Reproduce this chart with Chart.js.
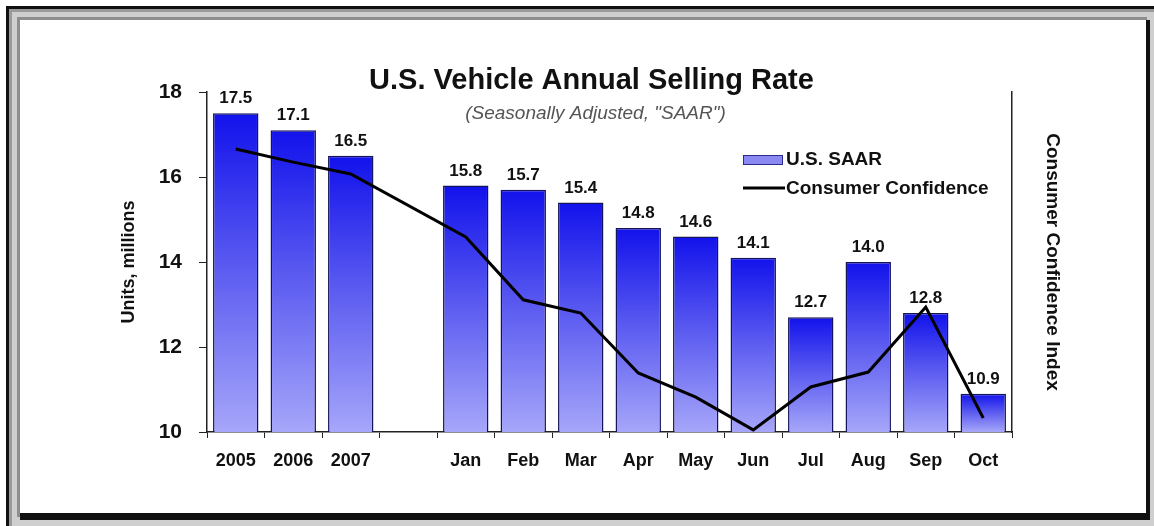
<!DOCTYPE html>
<html>
<head>
<meta charset="utf-8">
<title>U.S. Vehicle Annual Selling Rate</title>
<script src="https://cdn.jsdelivr.net/npm/chart.js@4.4.1/dist/chart.umd.min.js"></script>
<style>
  html, body { margin: 0; padding: 0; width: 1154px; height: 526px; overflow: hidden; background: #fff; }
  /* sunken window-style frame around the chart panel */
  #frame {
    position: absolute; left: 6px; top: 6px; width: 1148px; height: 520px;
    box-sizing: border-box; background: #cfcfcf;
    border-top: 3px solid #111; border-left: 3px solid #111;
    box-shadow: inset 3px 3px 0 #9a9a9a;
  }
  #panel {
    position: absolute; left: 20px; top: 20px; width: 1130px; height: 500px;
    box-sizing: border-box; background: #fff;
    border-right: 4px solid #111; border-bottom: 7px solid #111;
    box-shadow: -3px -3px 0 #8e8e8e;
  }
  #c { position: absolute; left: 0; top: 0; }
</style>
</head>
<body>
<div id="frame"></div>
<div id="panel"></div>
<canvas id="c" width="1154" height="526"></canvas>
<script>
// ---- data ----
const categories = ['2005', '2006', '2007', '', 'Jan', 'Feb', 'Mar', 'Apr', 'May', 'Jun', 'Jul', 'Aug', 'Sep', 'Oct'];
const saarValues = [17.5, 17.1, 16.5, null, 15.8, 15.7, 15.4, 14.8, 14.6, 14.1, 12.7, 14.0, 12.8, 10.9];
const confidenceValues = [16.66, 16.35, 16.07, null, 14.59, 13.11, 12.80, 11.39, 10.82, 10.05, 11.06, 11.41, 12.94, 10.33];
const unitTicks = [10, 12, 14, 16, 18];

const titleText = 'U.S. Vehicle Annual Selling Rate';
const subtitleText = '(Seasonally Adjusted, "SAAR")';
const saarLabel = 'U.S. SAAR';
const confidenceLabel = 'Consumer Confidence';
const leftAxisTitle = 'Units, millions';
const rightAxisTitle = 'Consumer Confidence Index';

const FONT = "'Liberation Sans', Arial, Helvetica, sans-serif";
const INK = '#111';

// vertical blue gradient running over each bar's own height
function barGradient(context) {
  const chart = context.chart;
  const { chartArea, scales } = chart;
  if (!chartArea || context.type !== 'data' || context.raw == null) return '#5a5af2';
  const y = scales.y;
  const top = y.getPixelForValue(context.raw);
  const bottom = y.getPixelForValue(y.min);
  const g = chart.ctx.createLinearGradient(0, top, 0, bottom);
  g.addColorStop(0, '#1212ec');
  g.addColorStop(0.45, '#5656f0');
  g.addColorStop(1, '#a6a6fa');
  return g;
}

// title + subtitle drawn over the top of the plot
const headingPlugin = {
  id: 'heading',
  afterDraw(chart) {
    const { ctx, chartArea } = chart;
    const cx = (chartArea.left + chartArea.right) / 2;
    ctx.save();
    ctx.textAlign = 'center';
    ctx.textBaseline = 'alphabetic';
    ctx.fillStyle = INK;
    ctx.font = `bold 29px ${FONT}`;
    ctx.fillText(titleText, cx - 18, chartArea.top - 3);
    ctx.fillStyle = '#555';
    ctx.font = `italic 19px ${FONT}`;
    ctx.fillText(subtitleText, cx - 14, chartArea.top + 27);
    ctx.restore();
  }
};

// legend placed inside the plot, upper right
const innerLegendPlugin = {
  id: 'innerLegend',
  afterDraw(chart) {
    const { ctx, chartArea } = chart;
    const x0 = chartArea.right - 269;
    const y0 = chartArea.top + 63;
    ctx.save();
    // bar swatch
    ctx.fillStyle = '#8a8af2';
    ctx.fillRect(x0, y0, 40, 10);
    ctx.strokeStyle = '#2a2a8a';
    ctx.lineWidth = 1;
    ctx.strokeRect(x0 + 0.5, y0 + 0.5, 39, 9);
    // line swatch
    ctx.strokeStyle = '#000';
    ctx.lineWidth = 3;
    ctx.beginPath();
    ctx.moveTo(x0, y0 + 33);
    ctx.lineTo(x0 + 42, y0 + 33);
    ctx.stroke();
    ctx.fillStyle = INK;
    ctx.font = `bold 19px ${FONT}`;
    ctx.textAlign = 'left';
    ctx.textBaseline = 'alphabetic';
    ctx.fillText(saarLabel, x0 + 43, y0 + 10);
    ctx.fillText(confidenceLabel, x0 + 43, y0 + 39);
    ctx.restore();
  }
};

// value labels above each bar
const barValuePlugin = {
  id: 'barValues',
  afterDatasetsDraw(chart) {
    const { ctx } = chart;
    const meta = chart.getDatasetMeta(0);
    ctx.save();
    ctx.fillStyle = INK;
    ctx.font = `bold 17px ${FONT}`;
    ctx.textAlign = 'center';
    ctx.textBaseline = 'alphabetic';
    meta.data.forEach((bar, i) => {
      const v = saarValues[i];
      if (v == null) return;
      ctx.fillText(v.toFixed(1), bar.x, bar.y - 10);
    });
    ctx.restore();
  }
};

new Chart(document.getElementById('c'), {
  type: 'bar',
  data: {
    labels: categories,
    datasets: [
      {
        label: saarLabel,
        data: saarValues,
        yAxisID: 'y',
        order: 1,
        backgroundColor: barGradient,
        borderColor: '#14145a',
        borderWidth: 1.5,
        borderSkipped: 'bottom',
        barPercentage: 0.79,
        categoryPercentage: 1.0
      },
      {
        type: 'line',
        label: confidenceLabel,
        data: confidenceValues,
        yAxisID: 'y1',
        order: 0,
        borderColor: '#000',
        borderWidth: 3,
        pointRadius: 0,
        tension: 0,
        spanGaps: true,
        fill: false
      }
    ]
  },
  options: {
    responsive: false,
    animation: false,
    layout: { padding: { left: 110, right: 90, top: 92, bottom: 44 } },
    plugins: {
      legend: { display: false },
      title: { display: false },
      tooltip: { enabled: false }
    },
    scales: {
      x: {
        afterFit(scale) { scale.height = 50; },
        grid: { display: true, offset: true, drawOnChartArea: false, drawTicks: true, tickLength: 6, color: '#222', lineWidth: 1 },
        border: { display: true, color: '#222', width: 1.5 },
        ticks: {
          color: INK, font: { family: FONT, size: 18, weight: 'bold' },
          padding: 12, maxRotation: 0, autoSkip: false
        }
      },
      y: {
        position: 'left',
        min: 10, max: 18,
        afterFit(scale) { scale.width = 97; },
        afterBuildTicks(scale) { scale.ticks = unitTicks.map(v => ({ value: v })); },
        grid: { display: true, drawOnChartArea: false, drawTicks: true, tickLength: 8, color: '#222', lineWidth: 1 },
        border: { display: true, color: '#222', width: 1.5 },
        ticks: { color: INK, font: { family: FONT, size: 21, weight: 'bold' }, padding: 17 },
        title: {
          display: true, text: leftAxisTitle, color: INK,
          font: { family: FONT, size: 18, weight: 'bold' },
          padding: { top: 8, bottom: 0 }
        }
      },
      y1: {
        position: 'right',
        min: 10, max: 18,
        afterFit(scale) { scale.width = 52; },
        grid: { display: false, drawOnChartArea: false, drawTicks: false },
        border: { display: true, color: '#222', width: 1.5 },
        ticks: { display: false },
        title: {
          display: true, text: rightAxisTitle, color: INK,
          font: { family: FONT, size: 19, weight: 'bold' },
          padding: { top: 0, bottom: 0 }
        }
      }
    }
  },
  plugins: [barValuePlugin, headingPlugin, innerLegendPlugin]
});
</script>
</body>
</html>
